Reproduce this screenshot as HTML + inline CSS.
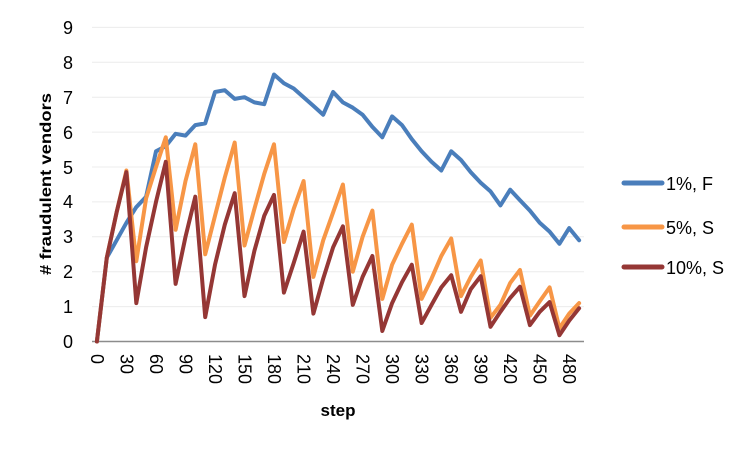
<!DOCTYPE html>
<html><head><meta charset="utf-8"><style>
html,body{margin:0;padding:0;background:#fff;}
svg{display:block;font-family:"Liberation Sans",sans-serif;}
</style></head><body>
<svg width="750" height="451" viewBox="0 0 750 451" xmlns="http://www.w3.org/2000/svg">
<g stroke="#ececec" stroke-width="1">
<line x1="92" x2="584" y1="27.4" y2="27.4"/>
<line x1="92" x2="584" y1="62.3" y2="62.3"/>
<line x1="92" x2="584" y1="97.2" y2="97.2"/>
<line x1="92" x2="584" y1="132.1" y2="132.1"/>
<line x1="92" x2="584" y1="167" y2="167"/>
<line x1="92" x2="584" y1="201.9" y2="201.9"/>
<line x1="92" x2="584" y1="236.8" y2="236.8"/>
<line x1="92" x2="584" y1="271.7" y2="271.7"/>
<line x1="92" x2="584" y1="306.6" y2="306.6"/>
</g>
<line x1="92" x2="584" y1="341.5" y2="341.5" stroke="#8c8c8c" stroke-width="1.5"/>
<g font-size="18" fill="#000" text-anchor="middle">
<text x="68" y="348">0</text><text x="68" y="313">1</text><text x="68" y="278">2</text>
<text x="68" y="243">3</text><text x="68" y="208">4</text><text x="68" y="174">5</text>
<text x="68" y="139">6</text><text x="68" y="104">7</text><text x="68" y="69">8</text>
<text x="68" y="34">9</text>
</g>
<g id="xl" font-size="18" fill="#000"></g>
<text transform="translate(51,184) rotate(-90)" text-anchor="middle" font-size="16" font-weight="bold" textLength="182" lengthAdjust="spacingAndGlyphs">#  fraudulent vendors</text>
<text x="338" y="416" text-anchor="middle" font-size="17" font-weight="bold">step</text>
<g fill="none" stroke-width="4" stroke-linejoin="round" stroke-linecap="round" id="series"></g>
<g stroke-width="5" stroke-linecap="round">
<line x1="624" x2="662" y1="183" y2="183" stroke="#4a7ebb"/>
<line x1="624" x2="662" y1="227" y2="227" stroke="#f79646"/>
<line x1="624" x2="662" y1="267" y2="267" stroke="#953735"/>
</g>
<g font-size="18" fill="#000">
<text x="666" y="190">1%, F</text>
<text x="666" y="234">5%, S</text>
<text x="666" y="274">10%, S</text>
</g>
<script>
(function(){
var ns="http://www.w3.org/2000/svg";
var B=[0,2.4,2.9,3.4,3.85,4.15,5.45,5.6,5.95,5.9,6.2,6.25,7.15,7.2,6.95,7.0,6.85,6.8,7.65,7.4,7.25,7.0,6.75,6.5,7.15,6.85,6.7,6.5,6.15,5.85,6.45,6.2,5.8,5.45,5.15,4.9,5.45,5.2,4.85,4.55,4.3,3.9,4.35,4.05,3.75,3.4,3.15,2.8,3.25,2.9];
var O=[0,2.4,3.7,4.9,2.3,4.1,5.0,5.85,3.2,4.6,5.65,2.5,3.6,4.7,5.7,2.75,3.8,4.8,5.65,2.85,3.8,4.6,1.85,2.9,3.7,4.5,2.0,3.0,3.75,1.22,2.2,2.8,3.35,1.22,1.8,2.45,2.95,1.3,1.85,2.32,0.68,1.05,1.68,2.05,0.74,1.15,1.55,0.38,0.8,1.1];
var R=[0,2.4,3.7,4.85,1.1,2.7,4.0,5.15,1.65,3.0,4.15,0.7,2.2,3.35,4.25,1.3,2.6,3.6,4.2,1.4,2.25,3.15,0.8,1.8,2.7,3.3,1.05,1.85,2.45,0.3,1.1,1.7,2.2,0.53,1.05,1.55,1.9,0.85,1.5,1.87,0.42,0.85,1.25,1.57,0.47,0.85,1.13,0.18,0.6,0.95];
function X(i){return 92+9.84*(i+0.5);}
function Y(v){return 341.5-34.9*v;}
var g=document.getElementById("series");
[[B,"#4a7ebb"],[O,"#f79646"],[R,"#953735"]].forEach(function(s){
 var p=document.createElementNS(ns,"polyline");
 p.setAttribute("points",s[0].map(function(v,i){return X(i).toFixed(1)+","+Y(v).toFixed(1);}).join(" "));
 p.setAttribute("stroke",s[1]);g.appendChild(p);});
var xl=document.getElementById("xl");
for(var k=0;k<=16;k++){var x=X(3*k)-6;var t=document.createElementNS(ns,"text");
 t.setAttribute("x",x);t.setAttribute("y",354);t.setAttribute("transform","rotate(90 "+x+" 354)");
 t.textContent=String(30*k);xl.appendChild(t);}
})();
</script>
</svg>
</body></html>
